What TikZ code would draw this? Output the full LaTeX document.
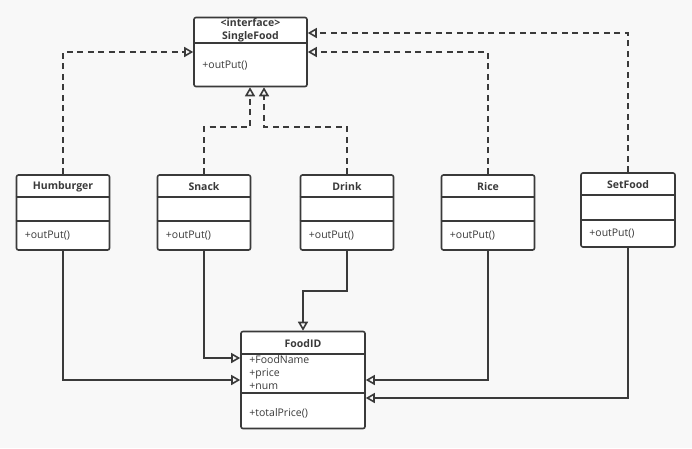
\documentclass[tikz,border=0pt]{standalone}
\usepackage{fontspec}
\setmainfont{Open Sans}
\usetikzlibrary{arrows.meta}
\definecolor{bgcol}{RGB}{248,248,248}
\definecolor{linecol}{RGB}{58,58,58}

\begin{document}
\begin{tikzpicture}[x=1pt, y=-1pt]
\tikzset{
    cls/.style={rectangle, draw=linecol, fill=white, rounded corners=2pt, line width=1.6pt, minimum width=93pt, minimum height=75pt, inner sep=0pt},
    title/.style={font=\fontsize{10.5}{12}\selectfont\bfseries, text=linecol},
    member/.style={font=\fontsize{10.5}{13}\selectfont, text=linecol, anchor=west, inner sep=0pt},
    sep/.style={draw=linecol, line width=1.6pt},
    realize/.style={-{Triangle[open, length=9pt, width=10pt]}, dash pattern=on 6pt off 4.5pt, draw=linecol, line width=1.6pt},
    inherit/.style={-{Triangle[open, length=9pt, width=10pt]}, draw=linecol, line width=1.6pt}
}

% background
\fill[bgcol] (0,0) rectangle (692,448);

% interface
\node[cls, minimum width=113pt, minimum height=69pt] (sf) at (250.5,52) {};
\node[title, align=center, font=\fontsize{10.5}{13}\selectfont\bfseries] at ([yshift=-14]sf.north) {<interface>\\SingleFood};
\draw[sep] ([yshift=-26]sf.north west) -- ([yshift=-26]sf.north east);
\node[member] at ([xshift=9, yshift=-49]sf.north west) {+outPut()};

% the four single foods
\foreach \nm/\x/\txt in {hum/63/Humburger, snack/204/Snack, drink/347/Drink, rice/488/Rice} {
    \node[cls] (\nm) at (\x,212.5) {};
    \node[title] at ([yshift=-12.5]\nm.north) {\txt};
    \draw[sep] ([yshift=-23]\nm.north west) -- ([yshift=-23]\nm.north east);
    \draw[sep] ([yshift=-47]\nm.north west) -- ([yshift=-47]\nm.north east);
    \node[member] at ([xshift=9, yshift=-61]\nm.north west) {+outPut()};
}

% set food
\node[cls, minimum width=94pt, minimum height=74pt] (set) at (628,210) {};
\node[title] at ([yshift=-12]set.north) {SetFood};
\draw[sep] ([yshift=-23]set.north west) -- ([yshift=-23]set.north east);
\draw[sep] ([yshift=-48]set.north west) -- ([yshift=-48]set.north east);
\node[member] at ([xshift=9, yshift=-61]set.north west) {+outPut()};

% food id
\node[cls, minimum width=124pt, minimum height=97pt] (fid) at (303,380) {};
\node[title] at ([yshift=-12.5]fid.north) {FoodID};
\draw[sep] ([yshift=-23]fid.north west) -- ([yshift=-23]fid.north east);
\draw[sep] ([yshift=-62]fid.north west) -- ([yshift=-62]fid.north east);
\node[member, anchor=north west, align=left] at ([xshift=9, yshift=-25]fid.north west) {+FoodName\\+price\\+num};
\node[member] at ([xshift=9, yshift=-83]fid.north west) {+totalPrice()};

% realization arrows to the interface
\draw[realize] (hum.north) |- (sf.west);
\draw[realize] (snack.north) -- ++(0,-47) -| ([xshift=-0.5]sf.south);
\draw[realize] (drink.north) -- ++(0,-47) -| ([xshift=13.5]sf.south);
\draw[realize] (rice.north) |- (sf.east);
\draw[realize] (set.north) |- ([yshift=19]sf.east);

% arrows to FoodID
\draw[inherit] (hum.south) |- (fid.west);
\draw[inherit] (snack.south) |- ([yshift=22]fid.west);
\draw[inherit] (drink.south) -- ++(0,40) -| (fid.north);
\draw[inherit] (rice.south) |- (fid.east);
\draw[inherit] (set.south) |- ([yshift=-18]fid.east);
\end{tikzpicture}
\end{document}
